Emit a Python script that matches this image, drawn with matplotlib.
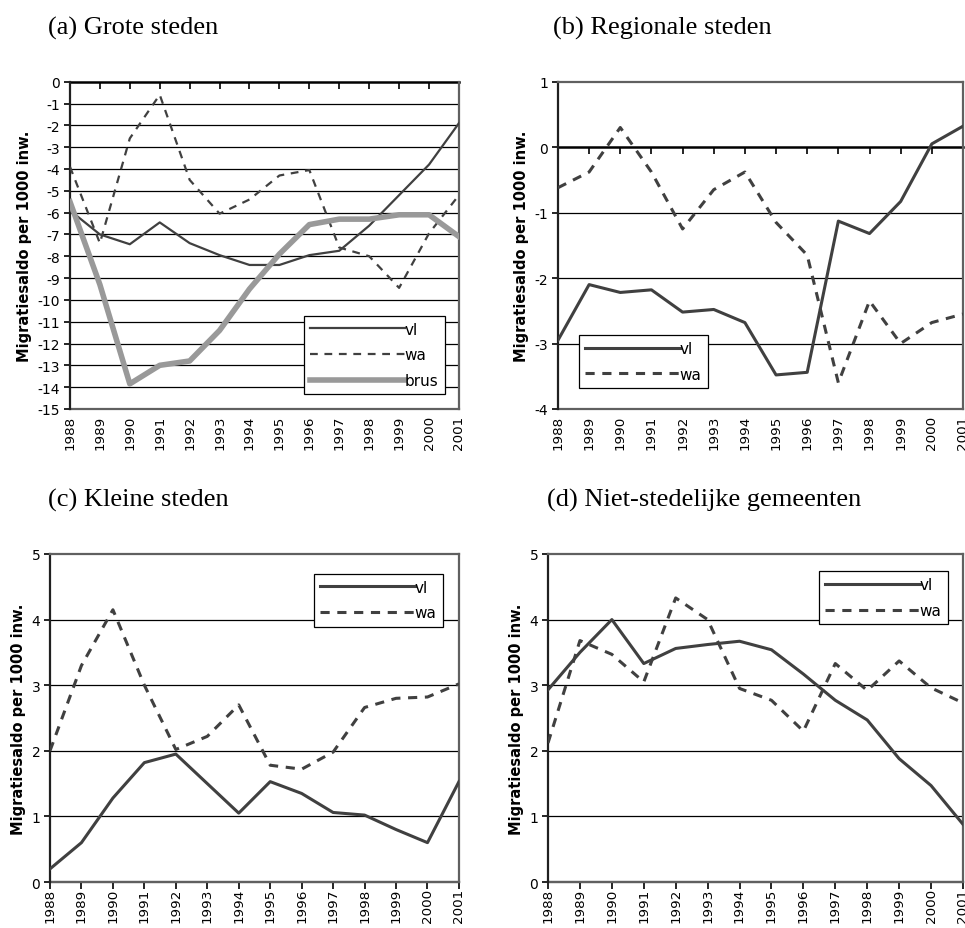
import matplotlib.pyplot as plt
from matplotlib.ticker import MultipleLocator

plt.rcParams["axes.unicode_minus"] = False

# Jaren op de categorie-as
years = list(range(1988, 2002))

# (a) Grote steden
a_vl = [-5.9, -7.0, -7.45, -6.45, -7.4, -7.95, -8.4, -8.4, -7.95, -7.75, -6.6, -5.2, -3.8, -1.9]
a_wa = [-3.9, -7.4, -2.6, -0.6, -4.5, -6.05, -5.4, -4.3, -4.05, -7.6, -8.0, -9.45, -6.95, -5.2]
a_brus = [-5.5, -9.3, -13.85, -13.0, -12.8, -11.4, -9.5, -7.9, -6.55, -6.3, -6.3, -6.1, -6.1, -7.1]

# (b) Regionale steden
b_vl = [-2.95, -2.1, -2.22, -2.18, -2.52, -2.48, -2.68, -3.48, -3.44, -1.13, -1.32, -0.83, 0.05, 0.32]
b_wa = [-0.62, -0.38, 0.3, -0.38, -1.25, -0.65, -0.38, -1.15, -1.65, -3.6, -2.35, -3.0, -2.68, -2.55]

# (c) Kleine steden
c_vl = [0.2, 0.6, 1.28, 1.82, 1.95, 1.5, 1.05, 1.53, 1.35, 1.06, 1.02, 0.8, 0.6, 1.53]
c_wa = [2.0, 3.3, 4.15, 3.0, 2.02, 2.22, 2.7, 1.78, 1.72, 1.98, 2.66, 2.8, 2.82, 3.02]

# (d) Niet-stedelijke gemeenten
d_vl = [2.93, 3.5, 4.0, 3.33, 3.56, 3.62, 3.67, 3.54, 3.17, 2.77, 2.47, 1.88, 1.47, 0.88]
d_wa = [2.12, 3.68, 3.47, 3.05, 4.33, 4.0, 2.95, 2.77, 2.3, 3.33, 2.92, 3.37, 2.96, 2.73]

titles = ["(a) Grote steden", "(b) Regionale steden", "(c) Kleine steden", "(d) Niet-stedelijke gemeenten"]
ylabel = "Migratiesaldo per 1000 inw."

LINE = "#404040"
FRAME = "#606060"


def setup_axes(ax, ymin, ymax, grid_vals, axis_color, axis_lw):
    ax.set_xlim(years[0], years[-1])
    ax.set_ylim(ymin, ymax)
    ax.yaxis.set_major_locator(MultipleLocator(1))
    ax.tick_params(axis="y", direction="out", length=4, width=1.2, labelsize=10, pad=3)

    # gridlines
    for g in grid_vals:
        ax.axhline(g, color="black", lw=0.9, zorder=1)

    # frame
    for side in ["top", "right", "left"]:
        ax.spines[side].set_color(FRAME)
        ax.spines[side].set_linewidth(1.6)
    ax.spines["left"].set_color("#202020")

    # category axis crosses at 0 (ticks, no labels)
    ax.spines["bottom"].set_position(("data", 0))
    ax.spines["bottom"].set_color(axis_color)
    ax.spines["bottom"].set_linewidth(axis_lw)
    ax.spines["bottom"].set_zorder(2)
    ax.set_xticks(years)
    ax.tick_params(axis="x", direction="out", length=5, width=1.2, labelbottom=False)

    # labels always at the bottom of the plot area
    sec = ax.secondary_xaxis(0)
    sec.set_xticks(years)
    sec.set_xticklabels([str(y) for y in years], rotation=90)
    sec.tick_params(axis="x", length=0, labelsize=9.7, pad=4)
    sec.spines["bottom"].set_color(FRAME)
    sec.spines["bottom"].set_linewidth(1.6)

    ax.set_ylabel(ylabel, fontsize=10.5, fontweight="bold", labelpad=4)


def add_legend(ax, anchor, loc):
    leg = ax.legend(loc=loc, bbox_to_anchor=anchor, fontsize=11, handlelength=6.2,
                    handletextpad=0.0, borderpad=0.4, labelspacing=0.7,
                    fancybox=False, framealpha=1, edgecolor="black", borderaxespad=0)
    leg.get_frame().set_linewidth(0.9)
    leg.set_zorder(5)


fig = plt.figure(figsize=(9.65, 9.29), dpi=100)

# (a)
ax = fig.add_axes([0.0725, 0.5587, 0.4031, 0.3523])
setup_axes(ax, -15, 0, list(range(-14, 0)), "black", 1.8)
ax.plot(years, a_vl, color=LINE, lw=1.6, label="vl", zorder=3)
ax.plot(years, a_wa, color=LINE, lw=1.6, ls=(0, (3.5, 3)), label="wa", zorder=3)
ax.plot(years, a_brus, color="#999999", lw=4.0, label="brus", zorder=3)
add_legend(ax, (0.963, 0.285), "upper right")
ax.spines["top"].set_visible(False)

# (b)
ax = fig.add_axes([0.5782, 0.5587, 0.4197, 0.3523])
setup_axes(ax, -4, 1, [-1, -2, -3], "black", 1.8)
ax.plot(years, b_vl, color=LINE, lw=2.2, label="vl", zorder=3)
ax.plot(years, b_wa, color=LINE, lw=2.2, ls=(0, (3, 2.5)), label="wa", zorder=3)
add_legend(ax, (0.052, 0.065), "lower left")

# (c)
ax = fig.add_axes([0.0518, 0.0495, 0.4238, 0.3531])
setup_axes(ax, 0, 5, [1, 2, 3, 4], FRAME, 1.6)
ax.plot(years, c_vl, color=LINE, lw=2.2, label="vl", zorder=3)
ax.plot(years, c_wa, color=LINE, lw=2.2, ls=(0, (3, 2.5)), label="wa", zorder=3)
add_legend(ax, (0.96, 0.94), "upper right")

# (d)
ax = fig.add_axes([0.5679, 0.0495, 0.43, 0.3531])
setup_axes(ax, 0, 5, [1, 2, 3, 4], FRAME, 1.6)
ax.plot(years, d_vl, color=LINE, lw=2.2, label="vl", zorder=3)
ax.plot(years, d_wa, color=LINE, lw=2.2, ls=(0, (3, 2.5)), label="wa", zorder=3)
add_legend(ax, (0.963, 0.948), "upper right")

# panel titles
title_pos = [(48, 35), (553, 35), (48, 507), (547, 507)]
for t, (px, py) in zip(titles, title_pos):
    fig.text(px / 965, 1 - py / 929, t, fontsize=19, family="Liberation Serif",
             ha="left", va="baseline")

fig.savefig("out.png", dpi=100)
